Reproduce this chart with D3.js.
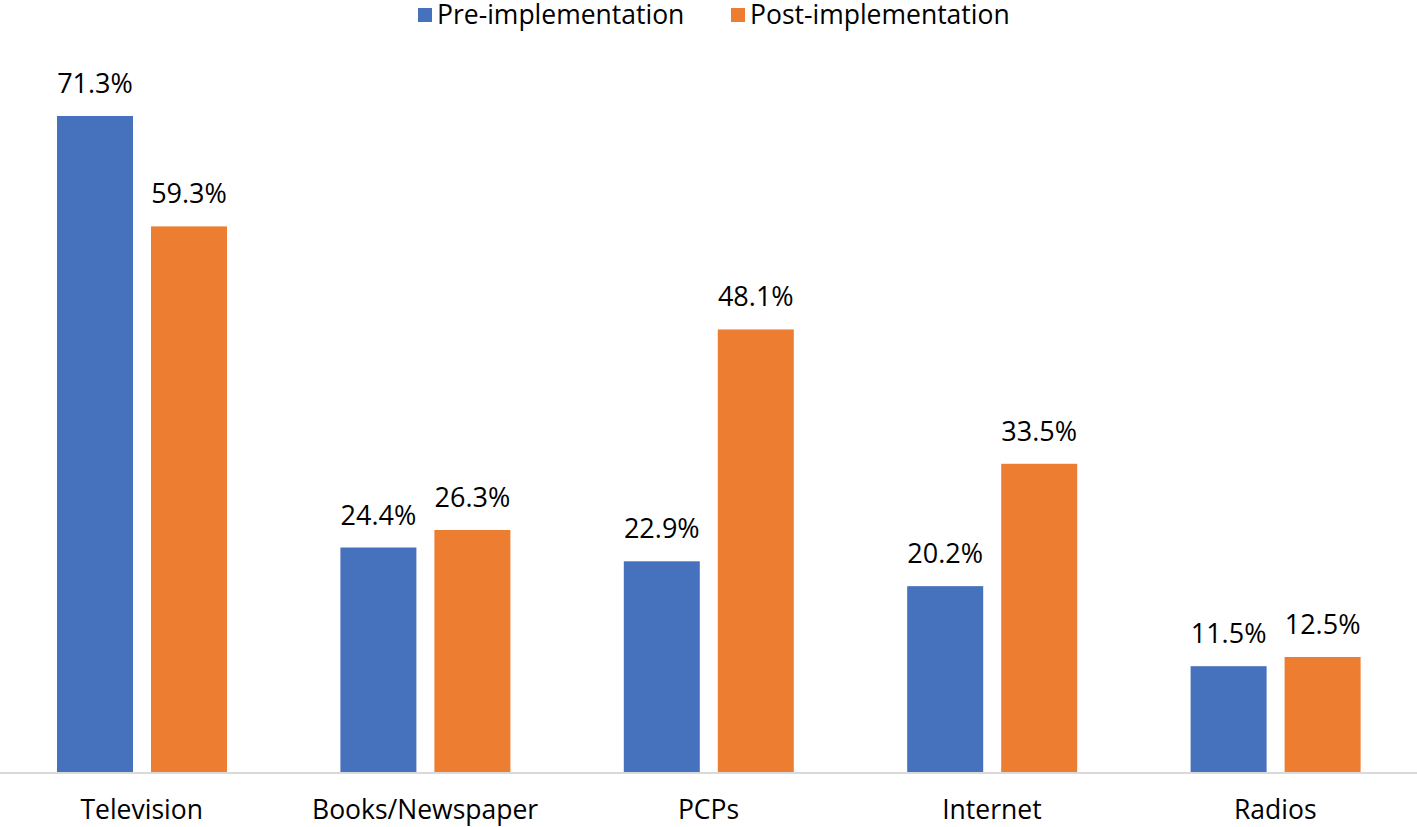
<!DOCTYPE html>
<meta charset="utf-8">
<style>
    body { margin: 0; background: #fff; }
    text { font-family: "Open Sans", sans-serif; fill: #000; }
    .label { font-size: 27px; text-anchor: middle; }
    .cat { font-size: 26.5px; text-anchor: middle; }
    .legend text { font-size: 26.5px; }
</style>
<svg id="svg" width="1417" height="827"></svg>
<script src="https://d3js.org/d3.v7.min.js"></script>
<script>
var categories = ["Television", "Books/Newspaper", "PCPs", "Internet", "Radios"];
var seriesNames = ["Pre-implementation", "Post-implementation"];
var preValues = [71.3, 24.4, 22.9, 20.2, 11.5];
var postValues = [59.3, 26.3, 48.1, 33.5, 12.5];
var colors = ["#4671bd", "#ed7d31"];

var svg = d3.select("#svg"),
    width = +svg.attr("width"),
    baseline = 772;

var data = categories.map(function(c, i) {
  return {cat: c, values: [preValues[i], postValues[i]]};
});

var x0 = d3.scaleBand()
    .domain(categories)
    .range([0, width]);

// two bars of 76px with an 18px gap, centred in each group
var x1 = d3.scaleBand()
    .domain([0, 1])
    .range([57, 227])
    .paddingInner(18 / 94);

var y = d3.scaleLinear()
    .domain([0, 71.3])
    .range([baseline, 116]);

var group = svg.selectAll(".group")
    .data(data)
  .enter().append("g")
    .attr("class", "group")
    .attr("transform", function(d) { return "translate(" + x0(d.cat) + ",0)"; });

group.selectAll("rect")
    .data(function(d) { return d.values; })
  .enter().append("rect")
    .attr("x", function(d, i) { return x1(i); })
    .attr("y", function(d) { return y(d); })
    .attr("width", x1.bandwidth())
    .attr("height", function(d) { return baseline - y(d); })
    .attr("fill", function(d, i) { return colors[i]; });

group.selectAll(".label")
    .data(function(d) { return d.values; })
  .enter().append("text")
    .attr("class", "label")
    .attr("x", function(d, i) { return x1(i) + x1.bandwidth() / 2; })
    .attr("y", function(d) { return y(d) - 23; })
    .text(function(d) { return d.toFixed(1) + "%"; });

// axis line
svg.append("line")
    .attr("x1", 0).attr("x2", width)
    .attr("y1", baseline + 1).attr("y2", baseline + 1)
    .attr("stroke", "#d9d9d9")
    .attr("stroke-width", 2);

svg.selectAll(".cat")
    .data(categories)
  .enter().append("text")
    .attr("class", "cat")
    .attr("x", function(d) { return x0(d) + x0.bandwidth() / 2; })
    .attr("y", 819)
    .text(function(d) { return d; });

// legend
var legendX = [418, 731];
var legend = svg.selectAll(".legend")
    .data(seriesNames)
  .enter().append("g")
    .attr("class", "legend")
    .attr("transform", function(d, i) { return "translate(" + legendX[i] + ",0)"; });

legend.append("rect")
    .attr("x", 0).attr("y", 8)
    .attr("width", 14).attr("height", 14)
    .attr("fill", function(d, i) { return colors[i]; });

legend.append("text")
    .attr("x", 19)
    .attr("y", 24)
    .text(function(d) { return d; });
</script>
